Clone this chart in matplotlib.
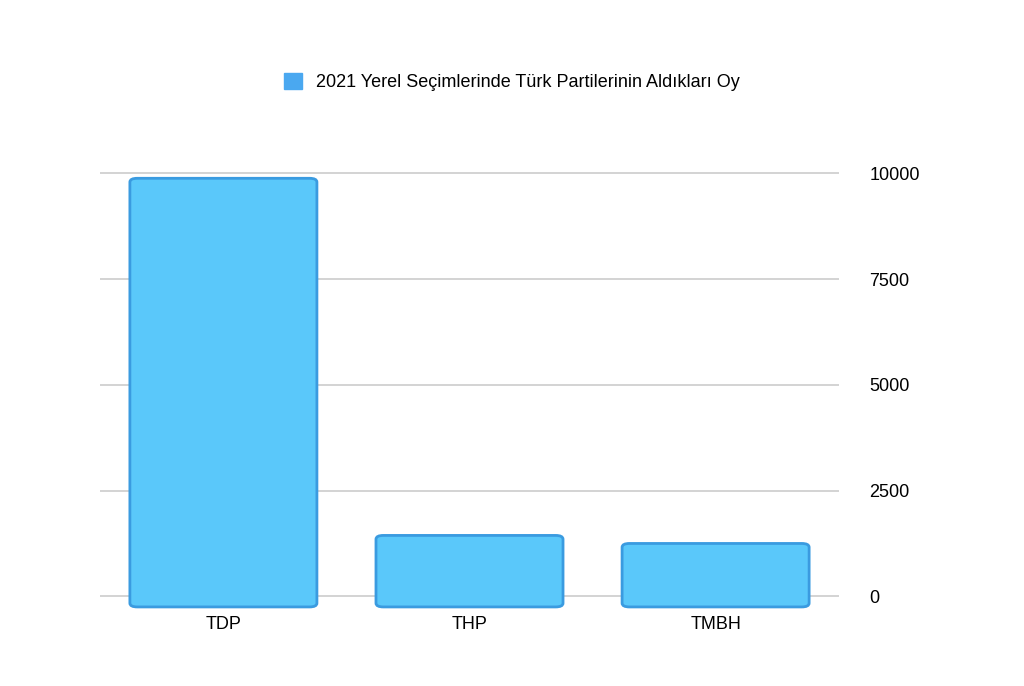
import matplotlib.pyplot as plt
from matplotlib.patches import FancyBboxPatch

parties = ["TDP", "THP", "TMBH"]
votes = [9880, 1440, 1250]
yticks = [0, 2500, 5000, 7500, 10000]
title = "2021 Yerel Seçimlerinde Türk Partilerinin Aldıkları Oy"

plt.rcParams['font.family'] = ['Liberation Sans', 'DejaVu Sans']

fig = plt.figure(figsize=(10.24, 6.86), dpi=100)
ax = fig.add_axes([0.098, 0.106, 0.721, 0.660])

bars = ax.bar(range(len(parties)), votes, width=0.76, color="#5AC8FA",
              edgecolor="#3AA0E8", linewidth=1.5, label=title, zorder=3)
# soften the bars into rounded slabs for the 3D-ish look
for b in bars:
    x, y = b.get_xy()
    w, h = b.get_width(), b.get_height()
    b.set_visible(False)
    ax.add_patch(FancyBboxPatch((x, y - 250), w, h + 250,
                                boxstyle="round,pad=0,rounding_size=0.03",
                                mutation_aspect=3000, facecolor="#5AC8FA",
                                edgecolor="#3A9BE0", linewidth=2, zorder=3))

ax.set_xlim(-0.5, 2.5)
ax.set_ylim(-400, 10300)
ax.set_yticks(yticks)
ax.yaxis.tick_right()
ax.grid(axis="y", color="#cccccc", linewidth=1.2, zorder=0)
ax.tick_params(axis="y", length=0, pad=22, labelsize=13)
ax.set_xticks(range(len(parties)))
ax.set_xticklabels(parties, fontsize=13)
ax.tick_params(axis="x", length=0, pad=2)
for s in ax.spines.values():
    s.set_visible(False)

handle = plt.Rectangle((0, 0), 1, 1, color="#4AA8F0")
fig.legend([handle], [title], loc="center", bbox_to_anchor=(0.5, 0.88),
           frameon=False, fontsize=13, handlelength=1, handleheight=1)

fig.savefig("out.png", dpi=100)
